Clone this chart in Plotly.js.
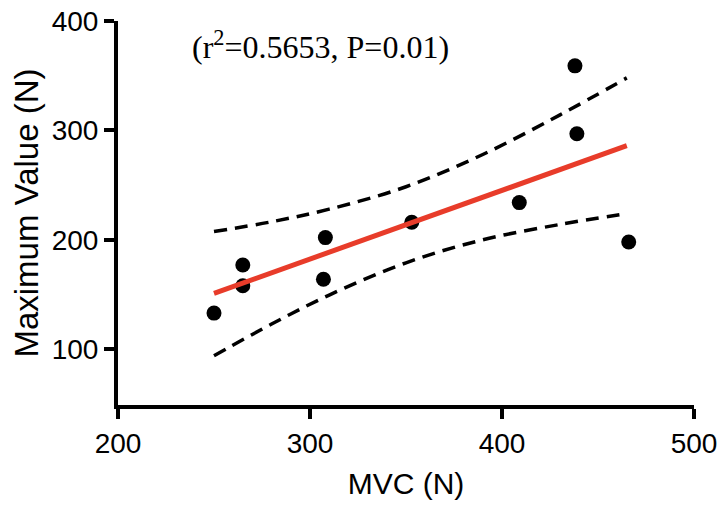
<!DOCTYPE html>
<html>
<head>
<meta charset="utf-8">
<script src="https://cdn.plot.ly/plotly-3.0.1.min.js"></script>
<style>html,body{margin:0;padding:0;background:#fff;} #chart{width:722px;height:506px;}</style>
</head>
<body>
<div id="chart"></div>
<script>
// Observed data points
const mvc = [250, 265, 265, 308, 307, 353, 409, 438, 439, 466];
const maxValue = [133, 177, 158, 202, 164, 216, 234, 359, 297, 198];

// Regression line
const fitX = [250, 465];
const fitY = [151, 286];

// 95% confidence band
const bandX = [250, 280, 310, 350, 390, 430, 465];
const upperBand = [207.5, 216.5, 228, 248.5, 278, 314, 348];
const lowerBand = [94, 123, 149.5, 179, 200, 214, 224];

const xTicks = [200, 300, 400, 500];
const yTicks = [100, 200, 300, 400];
const statText = '(r<sup>2</sup>=0.5653, P=0.01)';

const dashStyle = {color: '#000', width: 3.5, dash: '13px,8px', shape: 'spline'};

const traces = [
  {x: bandX, y: upperBand, mode: 'lines', line: dashStyle, hoverinfo: 'skip'},
  {x: bandX, y: lowerBand, mode: 'lines', line: dashStyle, hoverinfo: 'skip'},
  {x: mvc, y: maxValue, mode: 'markers', marker: {color: '#000', size: 15}},
  {x: fitX, y: fitY, mode: 'lines', line: {color: '#e83c2a', width: 5}}
];

const axisCommon = {
  showline: true, linewidth: 4, linecolor: '#000',
  ticks: 'outside', ticklen: 10, tickwidth: 4, tickcolor: '#000',
  showgrid: false, zeroline: false,
  tickfont: {family: '"Liberation Sans", Arial, sans-serif', size: 28, color: '#000'}
};

const layout = {
  width: 722, height: 506,
  margin: {l: 118, r: 28, t: 21, b: 101},
  paper_bgcolor: '#fff', plot_bgcolor: '#fff',
  showlegend: false,
  xaxis: Object.assign({}, axisCommon, {
    range: [200, 500], tickvals: xTicks, ticktext: xTicks.map(String),
    title: {text: 'MVC (N)', standoff: 16,
      font: {family: '"Liberation Sans", Arial, sans-serif', size: 30, color: '#000'}}
  }),
  yaxis: Object.assign({}, axisCommon, {
    range: [49, 400], tickvals: yTicks, ticktext: yTicks.map(String),
    title: {text: 'Maximum Value (N)', standoff: 4,
      font: {family: '"Liberation Sans", Arial, sans-serif', size: 33, color: '#000'}}
  }),
  annotations: [{
    x: 305.5, y: 378, xref: 'x', yref: 'y', showarrow: false,
    text: statText,
    font: {family: '"Liberation Serif", "Times New Roman", serif', size: 32, color: '#000'}
  }]
};

Plotly.newPlot('chart', traces, layout, {displayModeBar: false, staticPlot: true});
</script>
</body>
</html>
